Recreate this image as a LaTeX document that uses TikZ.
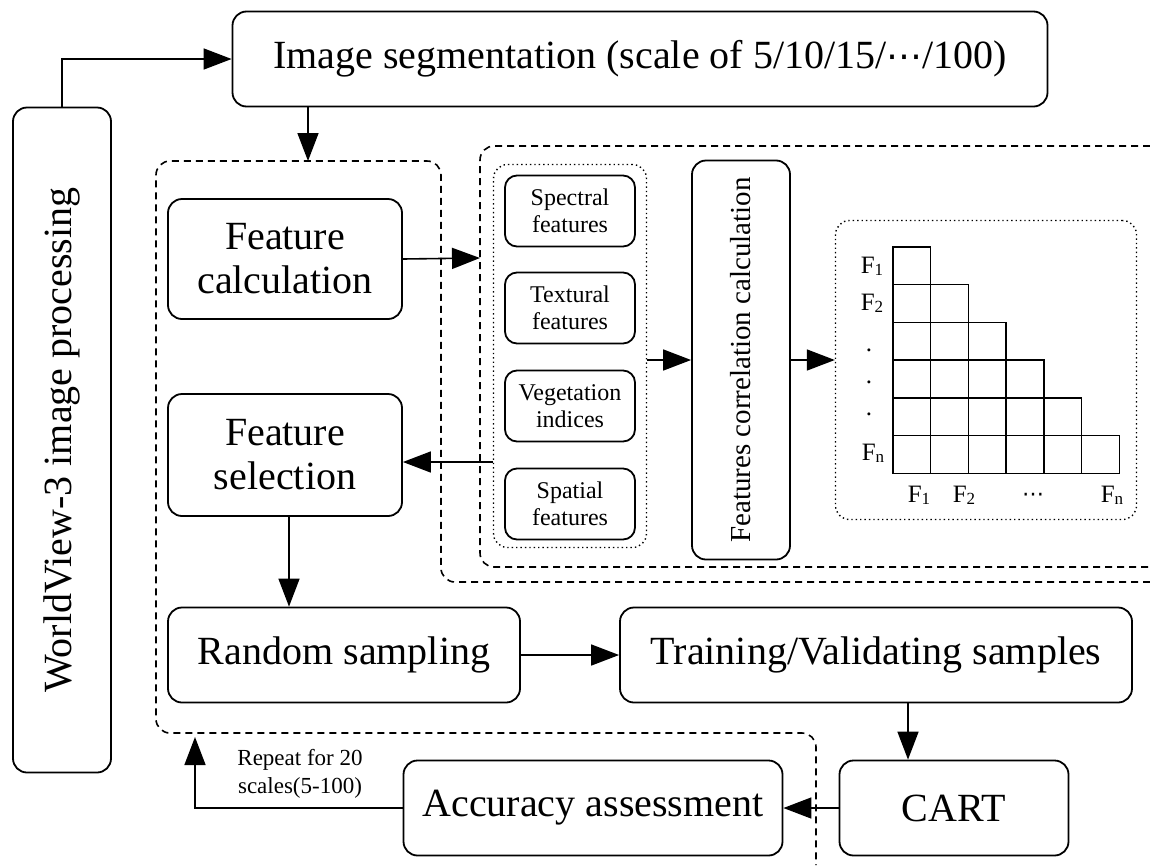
\documentclass[tikz,border=0pt]{standalone}
\usepackage{fontspec}
\setmainfont{Liberation Serif}
\newfontfamily\symfont{DejaVu Sans}
\usetikzlibrary{arrows.meta}

\newcommand{\fsub}[1]{\raisebox{-2pt}{\fontsize{17}{17}\selectfont #1}}

\begin{document}
\begin{tikzpicture}[x=1pt,y=-1pt,
    box/.style={draw, line width=1.8pt, rounded corners=14pt, align=center, inner sep=0pt,
        font=\fontsize{40}{44}\selectfont},
    smallbox/.style={box, rounded corners=12pt, minimum width=130pt, minimum height=71pt,
        font=\fontsize{24}{27}\selectfont},
    arr/.style={line width=1.6pt, -{Triangle[length=28pt,width=21pt]}},
    grp/.style={line width=1.6pt, dash pattern=on 7pt off 5pt, rounded corners=14pt},
    dotgrp/.style={draw, line width=1.4pt, dash pattern=on 1.4pt off 3pt, rounded corners=14pt},
    lbl/.style={font=\fontsize{25}{28}\selectfont, inner sep=0pt}
]
    \useasboundingbox (0,0) rectangle (1150,865);

    % Draw the main boxes
    \node[box, rotate=90, minimum width=665pt, minimum height=98pt] (wv) at (62,440) {WorldView-3 image processing};
    \node[box, minimum width=815pt, minimum height=95pt] (seg) at (640,59) {Image segmentation (scale of 5/10/15/{\symfont\fontsize{36}{36}\selectfont ⋯}/100)};
    \node[box, minimum width=234pt, minimum height=120pt] (calc) at (285,259) {Feature\\calculation};
    \node[box, minimum width=234pt, minimum height=122pt] (sel) at (285,455) {Feature\\selection};
    \node[box, minimum width=352pt, minimum height=95pt] (rand) at (344,655) {Random sampling};
    \node[box, minimum width=512pt, minimum height=95pt] (train) at (876,655) {Training/Validating samples};
    \node[box, minimum width=229pt, minimum height=95pt] (cart) at (954,808) {CART};
    \node[box, minimum width=379pt, minimum height=95pt] (acc) at (593,808) {Accuracy assessment};

    % Draw the feature groups
    \node[dotgrp, minimum width=153pt, minimum height=383pt] (feats) at (570,356) {};
    \node[smallbox] (spec) at (570,211) {Spectral\\features};
    \node[smallbox] (text) at (570,308) {Textural\\features};
    \node[smallbox] (veg) at (570,406) {Vegetation\\indices};
    \node[smallbox] (spat) at (570,504) {Spatial\\features};
    \node[box, rotate=90, minimum width=399pt, minimum height=98pt, font=\fontsize{29}{32}\selectfont] (corr) at (741,360) {Features correlation calculation};
    \node[dotgrp, minimum width=301pt, minimum height=299pt] (mat) at (986,370) {};

    % Draw the correlation matrix
    \foreach \r in {1,...,6} {
        \foreach \c in {1,...,\r} {
            \draw[line width=1.4pt] ({893+(\c-1)*37.7},{247+(\r-1)*37.7}) rectangle ++(37.7,37.7);
        }
    }
    \node[lbl] (r1) at (872,266) {F\fsub{1}};
    \node[lbl] (r2) at (872,303) {F\fsub{2}};
    \node[lbl] (d1) at (869,350) {.};
    \node[lbl] (d2) at (869,382) {.};
    \node[lbl] (d3) at (869,414) {.};
    \node[lbl] (rn) at (873,453) {F\fsub{n}};
    \node[lbl] (c1) at (919,495) {F\fsub{1}};
    \node[lbl] (c2) at (964,495) {F\fsub{2}};
    \node[lbl, font=\symfont\fontsize{22}{22}\selectfont] (cd) at (1033,497) {⋯};
    \node[lbl] (cn) at (1112,495) {F\fsub{n}};

    % Draw the dashed loops
    \draw[grp] (1150,146) -- (480,146) -- (480,567) -- (1150,567);
    \draw[grp] (1150,582) -- (441,582) -- (441,161) -- (156,161) -- (156,733) -- (816,733) -- (816,865);
    \coordinate (top) at (308,161);
    \coordinate (inner) at (480,258);
    \coordinate (back) at (195,737);

    % Draw the arrows
    \draw[arr] (wv.east) |- (seg.west);
    \draw[arr] (top |- seg.south) -- (top);
    \draw[arr] (calc.east) -- (inner);
    \draw[arr] (feats.west |- 0,462) -- (sel.east |- 0,462);
    \draw[arr] (feats.east |- corr.north) -- (corr.north);
    \draw[arr] (corr.south) -- (mat.west |- corr.south);
    \draw[arr] ([xshift=4pt]sel.south) -- ([xshift=4pt]sel.south |- rand.north);
    \draw[arr] (rand) -- (train);
    \draw[arr] ([xshift=32pt]train.south) -- ([xshift=32pt]train.south |- cart.north);
    \draw[arr] (cart) -- (acc);
    \draw[arr] (acc.west) -| (back);
    \node[lbl, align=center, font=\fontsize{23}{28}\selectfont] (rep) at (300,774) {Repeat for 20\\scales(5-100)};
\end{tikzpicture}
\end{document}
